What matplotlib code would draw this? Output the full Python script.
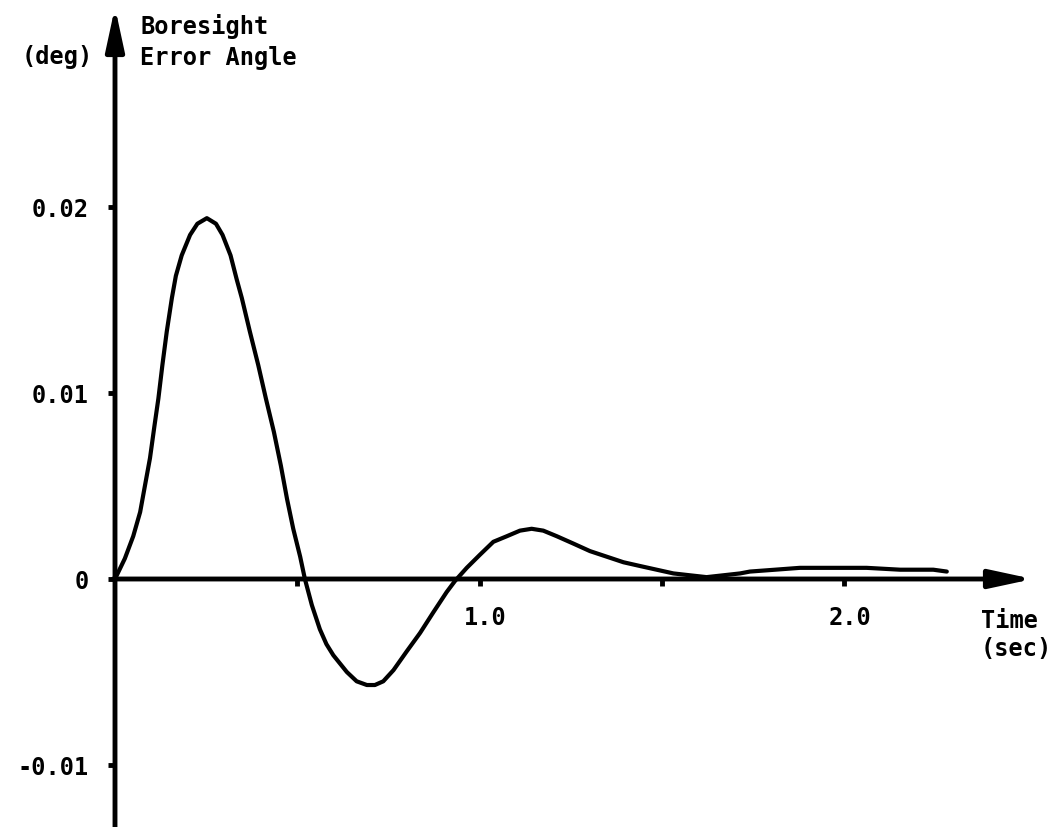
import matplotlib
matplotlib.use("Agg")
import matplotlib.pyplot as plt
import matplotlib.transforms as mtransforms

# boresight error angle response
time_sec = [0.0, 0.027, 0.050, 0.069, 0.082, 0.096, 0.108, 0.119, 0.130,
            0.142, 0.156, 0.167, 0.183, 0.206, 0.226, 0.252, 0.277, 0.295, 0.317,
            0.334, 0.348, 0.370, 0.393, 0.414, 0.436, 0.455, 0.472, 0.489, 0.508,
            0.521, 0.540, 0.562, 0.580, 0.599, 0.636, 0.663, 0.691, 0.713, 0.736,
            0.764, 0.800, 0.837, 0.873, 0.910, 0.933, 0.965, 1.001, 1.038, 1.075,
            1.111, 1.143, 1.175, 1.212, 1.258, 1.303, 1.349, 1.395, 1.440, 1.486,
            1.532, 1.577, 1.623, 1.669, 1.715, 1.742, 1.811, 1.879, 1.971, 2.062,
            2.154, 2.245, 2.282]
error_deg = [0.0, 0.0011, 0.0023, 0.0036, 0.0050, 0.0065, 0.0082, 0.0097, 0.0115,
             0.0133, 0.0151, 0.0163, 0.0174, 0.0185, 0.0191, 0.0194, 0.0191, 0.0185, 0.0174,
             0.0161, 0.0151, 0.0133, 0.0115, 0.0097, 0.0079, 0.0061, 0.0043, 0.0027, 0.0012,
             0.0000, -0.0014, -0.0027, -0.0035, -0.0041, -0.0050, -0.0055, -0.0057, -0.0057, -0.0055,
             -0.0049, -0.0039, -0.0029, -0.0018, -0.0007, -0.0001, 0.0006, 0.0013, 0.0020, 0.0023,
             0.0026, 0.0027, 0.0026, 0.0023, 0.0019, 0.0015, 0.0012, 0.0009, 0.0007, 0.0005,
             0.0003, 0.0002, 0.0001, 0.0002, 0.0003, 0.0004, 0.0005, 0.0006, 0.0006, 0.0006,
             0.0005, 0.0005, 0.0004]

y_ticks = [0.02, 0.01, 0.0, -0.01]
y_labels = ['0.02', '0.01', '0', '-0.01']
x_ticks = [0.5, 1.0, 1.5, 2.0]
x_labels = ['', '1.0', '', '2.0']

plt.rcParams['font.family'] = 'DejaVu Sans Mono'
plt.rcParams['font.weight'] = 'bold'

fig = plt.figure(figsize=(10.53, 8.28), dpi=100)
ax = fig.add_axes([0, 0, 1, 1])

# pixel mapping of the scan: t=0 at x=115, 1 sec = 364.5 px; y=0 at 580, 0.01 = 186 px
ax.set_xlim(-115 / 364.5, (1053 - 115) / 364.5)
ax.set_ylim(-(828 - 580) / 186 * 0.01, 580 / 186 * 0.01)

ax.plot(time_sec, error_deg, color='black', lw=3, solid_joinstyle='round',
        solid_capstyle='round')

# axes drawn as arrows
arrow = dict(arrowstyle='-|>,head_length=1.3,head_width=0.28', color='black',
             lw=3.5, mutation_scale=20, shrinkA=0, shrinkB=0)
ax.annotate('', xy=(0, (580 - 8) / 186 * 0.01), xytext=(0, -0.014), arrowprops=arrow)
ax.annotate('', xy=((1033 - 115) / 364.5, 0), xytext=(-0.005, 0), arrowprops=arrow)

for s in ax.spines.values():
    s.set_visible(False)
ax.spines['left'].set_position(('data', 0))
ax.spines['bottom'].set_position(('data', 0))

ax.set_yticks(y_ticks, y_labels)
ax.set_xticks(x_ticks, x_labels)
ax.tick_params(axis='y', direction='out', length=5, width=3.5, pad=14, labelsize=17)
ax.tick_params(axis='x', direction='out', length=5, width=3.5, pad=14, labelsize=17)
shift = mtransforms.ScaledTranslation(6 / 100, 0, fig.dpi_scale_trans)
for lab in ax.get_xticklabels():
    lab.set_transform(lab.get_transform() + shift)

fig.text(140 / 1053, 1 - 14 / 828, 'Boresight\nError Angle', ha='left', va='top',
         fontsize=17, linespacing=1.35)
fig.text(22 / 1053, 1 - 45 / 828, '(deg)', ha='left', va='top', fontsize=17)
fig.text(981 / 1053, 1 - 609 / 828, 'Time\n(sec)', ha='left', va='top',
         fontsize=17, linespacing=1.2)

fig.savefig('out.png', dpi=100)
